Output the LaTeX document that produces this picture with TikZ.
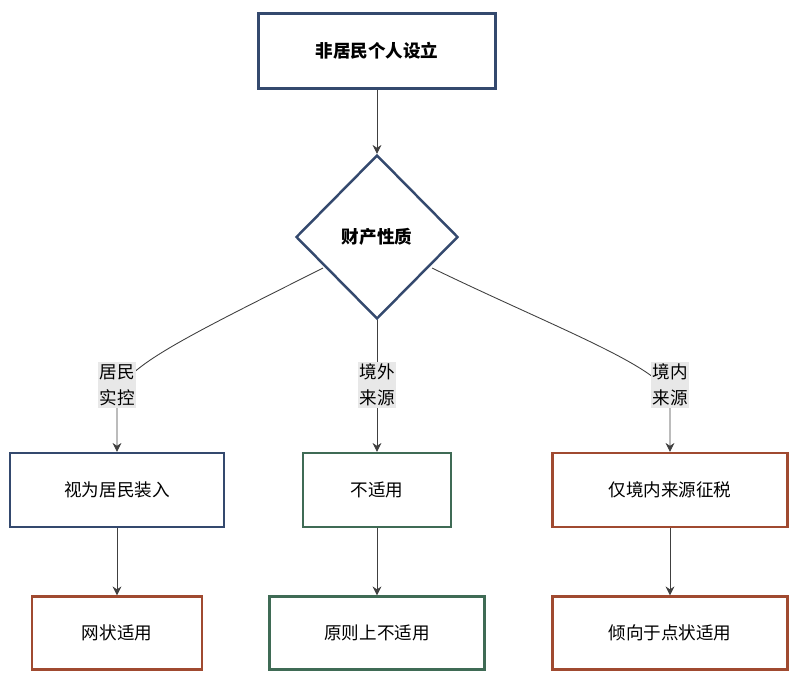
\documentclass[tikz,border=0pt]{standalone}
\usepackage{fontspec}
\setmainfont{Noto Sans CJK SC}
\usetikzlibrary{shapes.geometric,arrows.meta,positioning}
\definecolor{cblue}{HTML}{34496E}
\definecolor{cgreen}{HTML}{3F6B55}
\definecolor{crust}{HTML}{A04A30}
\definecolor{lblbg}{HTML}{E8E8E8}
\tikzset{
  box/.style={draw=#1, line width=1.4pt, fill=white, font=\fontsize{10}{12}\selectfont},
  arr/.style={-{Stealth[length=5pt,width=5pt]}, draw=black!75, line width=0.5pt},
  lbl/.style={fill=lblbg, inner sep=1pt, align=center, font=\fontsize{10}{15}\selectfont}
}
\begin{document}
\begin{tikzpicture}[x=0.02cm, y=-0.02cm]
\useasboundingbox (0,0) rectangle (800,681);
% top
\node[box=cblue, minimum width=237*0.02cm, minimum height=75*0.02cm, font=\fontsize{10}{12}\selectfont\bfseries] (src) at (377,51) {非居民个人设立};
\node[box=cblue, diamond, minimum width=162*0.02cm, minimum height=164*0.02cm, inner sep=0pt, font=\fontsize{10}{12}\selectfont\bfseries] (prop) at (377,237) {财产性质};
% middle row
\node[box=cblue, minimum width=214*0.02cm, minimum height=74*0.02cm] (resi) at (117,490) {视为居民装入};
\node[box=cgreen, minimum width=148*0.02cm, minimum height=74*0.02cm] (noap) at (377,490) {不适用};
\node[box=crust, minimum width=235*0.02cm, minimum height=74*0.02cm] (dome) at (670,490) {仅境内来源征税};
% bottom row
\node[box=crust, minimum width=170*0.02cm, minimum height=73*0.02cm] (net) at (117,633) {网状适用};
\node[box=cgreen, minimum width=215*0.02cm, minimum height=73*0.02cm] (rule) at (377,633) {原则上不适用};
\node[box=crust, minimum width=235*0.02cm, minimum height=73*0.02cm] (point) at (670,633) {倾向于点状适用};
% connectors
\coordinate (pl) at (323,268);
\coordinate (pr) at (432,268);
\draw[arr] (src) -- (prop);
\draw[arr] (pl) .. controls (180,340) and (117,370) .. (117,400) -- (resi);
\draw[arr] (prop) -- (noap);
\draw[arr] (pr) .. controls (560,330) and (670,370) .. (670,400) -- (dome);
\draw[arr] (resi) -- (net);
\draw[arr] (noap) -- (rule);
\draw[arr] (dome) -- (point);
% labels
\node[lbl] (l1) at (117,385) {居民\\实控};
\node[lbl] (l2) at (377,385) {境外\\来源};
\node[lbl] (l3) at (670,385) {境内\\来源};
\end{tikzpicture}
\end{document}
